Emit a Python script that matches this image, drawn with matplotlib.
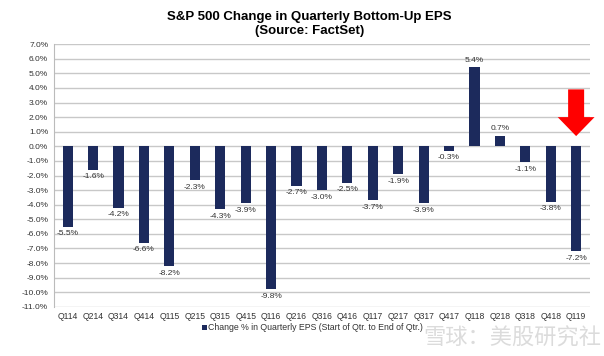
import numpy as np
import matplotlib
matplotlib.use("Agg")
from matplotlib import pyplot as plt
from matplotlib.patches import FancyArrow

quarters = ['Q114', 'Q214', 'Q314', 'Q414', 'Q115', 'Q215', 'Q315', 'Q415',
            'Q116', 'Q216', 'Q316', 'Q416', 'Q117', 'Q217', 'Q317', 'Q417',
            'Q118', 'Q218', 'Q318', 'Q418', 'Q119']
eps_change = [-5.5, -1.6, -4.2, -6.6, -8.2, -2.3, -4.3, -3.9,
              -9.8, -2.7, -3.0, -2.5, -3.7, -1.9, -3.9, -0.3,
              5.4, 0.7, -1.1, -3.8, -7.2]
y_ticks = np.arange(-11, 8, 1)

plt.rcParams['font.family'] = ['Liberation Sans', 'DejaVu Sans']
bar_color = '#1c2a5c'

fig = plt.figure(figsize=(6.04, 3.56), dpi=100)
axis = fig.add_axes([0.089, 0.138, 0.888, 0.738])
x = np.arange(len(quarters))
axis.bar(x, eps_change, width=0.4, color=bar_color, zorder=3,
         label='Change % in Quarterly EPS (Start of Qtr. to End of Qtr.)')
for xi, val in zip(x, eps_change):
    if val < 0:
        axis.text(xi, val - 0.25, f'{val:.1f}%', ha='center', va='top',
                  fontsize=6, color='#333333')
    else:
        axis.text(xi, val + 0.25, f'{val:.1f}%', ha='center', va='bottom',
                  fontsize=6, color='#333333')

axis.set_xlim(-0.55, len(quarters) - 0.45)
axis.set_ylim(-11, 7)
axis.set_yticks(y_ticks)
axis.set_yticklabels([f'{t:.1f}%' for t in y_ticks], fontsize=6, color='#333333')
axis.set_xticks(x)
axis.set_xticklabels(quarters, fontsize=6.2, color='#333333')
axis.tick_params(length=0, pad=4)
axis.grid(axis='y', color='#c8c8c8', linewidth=1.0, zorder=0)
for side in ['top', 'right', 'bottom']:
    axis.spines[side].set_visible(False)
axis.spines['left'].set_color('#bbbbbb')

# red arrow pointing at the latest quarter
arrow = FancyArrow(20.0, 3.9, 0, -3.2, width=0.63, head_width=1.45,
                   head_length=1.3, length_includes_head=True,
                   color='#ff0000', zorder=4, linewidth=0)
arrow.set_clip_on(False)
axis.add_patch(arrow)

axis.legend(loc='upper left', bbox_to_anchor=(0.272, -0.052), frameon=False,
            fontsize=6.3, handlelength=0.5, handleheight=0.5, handletextpad=0.2,
            labelcolor='#333333', borderaxespad=0, borderpad=0.3)

fig.text(0.512, 0.952, 'S&P 500 Change in Quarterly Bottom-Up EPS',
         ha='center', va='center', fontsize=9.5, fontweight='bold')
fig.text(0.512, 0.912, '(Source: FactSet)', ha='center', va='center',
         fontsize=9.5, fontweight='bold')

# watermark
fig.text(0.995, 0.05, '雪球：美股研究社', ha='right', va='center', fontsize=16,
         color='#d8d8d8', family=['Noto Sans CJK SC', 'DejaVu Sans'], alpha=0.9)

fig.savefig('out.png', dpi=100)
